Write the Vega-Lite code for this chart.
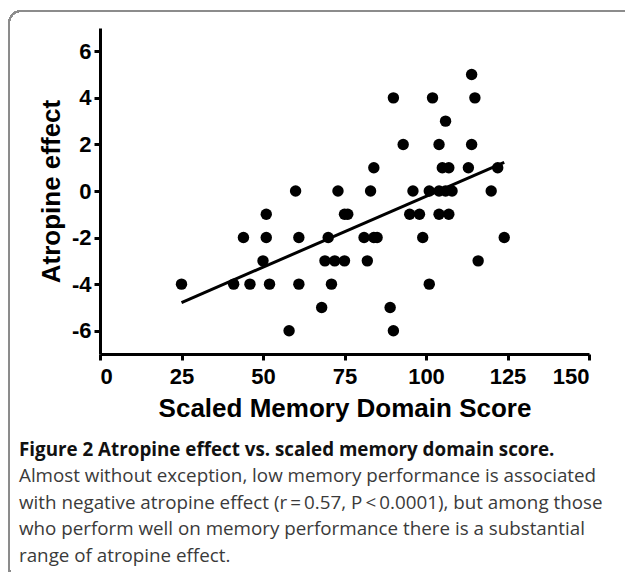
{
  "$schema": "https://vega.github.io/schema/vega-lite/v6.json",
  "autosize": {"type": "none"},
  "width": 489,
  "height": 326,
  "padding": {"left": 100, "top": 28, "right": 36, "bottom": 218},
  "background": "white",
  "data": {
    "values": [
      {"x": 25, "y": -4}, {"x": 41, "y": -4}, {"x": 46, "y": -4}, {"x": 44, "y": -2},
      {"x": 51, "y": -1}, {"x": 51, "y": -2}, {"x": 50, "y": -3}, {"x": 52, "y": -4},
      {"x": 60, "y": 0}, {"x": 61, "y": -2}, {"x": 61, "y": -4}, {"x": 58, "y": -6},
      {"x": 68, "y": -5}, {"x": 70, "y": -2}, {"x": 69, "y": -3}, {"x": 72, "y": -3},
      {"x": 75, "y": -3}, {"x": 71, "y": -4}, {"x": 73, "y": 0}, {"x": 75, "y": -1},
      {"x": 76, "y": -1}, {"x": 81, "y": -2}, {"x": 84, "y": -2}, {"x": 85, "y": -2},
      {"x": 82, "y": -3}, {"x": 83, "y": 0}, {"x": 84, "y": 1}, {"x": 90, "y": 4},
      {"x": 89, "y": -5}, {"x": 90, "y": -6}, {"x": 93, "y": 2}, {"x": 96, "y": 0},
      {"x": 95, "y": -1}, {"x": 98, "y": -1}, {"x": 99, "y": -2}, {"x": 101, "y": 0},
      {"x": 101, "y": -4}, {"x": 102, "y": 4}, {"x": 104, "y": 2}, {"x": 104, "y": 0},
      {"x": 106, "y": 0}, {"x": 108, "y": 0}, {"x": 105, "y": 1}, {"x": 107, "y": 1},
      {"x": 104, "y": -1}, {"x": 107, "y": -1}, {"x": 106, "y": 3}, {"x": 113, "y": 1},
      {"x": 114, "y": 2}, {"x": 115, "y": 4}, {"x": 114, "y": 5}, {"x": 120, "y": 0},
      {"x": 122, "y": 1}, {"x": 124, "y": -2}, {"x": 116, "y": -3}
    ]
  },
  "title": {
    "text": "Figure 2 Atropine effect vs. scaled memory domain score.",
    "subtitle": [
      "Almost without exception, low memory performance is associated",
      "with negative atropine effect (r\u2009=\u20090.57, P\u2009<\u20090.0001), but among those",
      "who perform well on memory performance there is a substantial",
      "range of atropine effect."
    ],
    "orient": "bottom",
    "anchor": "start",
    "frame": "group",
    "dx": -81,
    "offset": -139.5,
    "font": "Open Sans",
    "fontSize": 18.8,
    "fontWeight": "bold",
    "color": "#111111",
    "subtitleFont": "Open Sans",
    "subtitleFontSize": 18.8,
    "subtitleFontWeight": "normal",
    "subtitleColor": "#3a3a3a",
    "subtitleLineHeight": 26.7,
    "subtitlePadding": 7
  },
  "layer": [
    {
      "mark": {"type": "rect", "fill": null, "stroke": "#8c8c8c", "strokeWidth": 1.5, "cornerRadius": 12},
      "encoding": {
        "x": {"datum": -27.9, "type": "quantitative"},
        "x2": {"datum": 220},
        "y": {"datum": 7.73, "type": "quantitative"},
        "y2": {"datum": -16.7}
      }
    },
    {
      "mark": {"type": "circle", "size": 130, "color": "black", "opacity": 1},
      "encoding": {
        "x": {
          "field": "x", "type": "quantitative",
          "scale": {"domain": [0, 150], "nice": false, "zero": false},
          "axis": {
            "title": "Scaled Memory Domain Score",
            "values": [0, 25, 50, 75, 100, 125, 150],
            "grid": false
          }
        },
        "y": {
          "field": "y", "type": "quantitative",
          "scale": {"domain": [-7, 7], "nice": false, "zero": false},
          "axis": {
            "title": "Atropine effect",
            "values": [-6, -4, -2, 0, 2, 4, 6],
            "labelExpr": "datum.value < 0 ? '-' + abs(datum.value) : '' + datum.value",
            "grid": false
          }
        }
      }
    },
    {
      "transform": [{"regression": "y", "on": "x", "extent": [25, 124]}],
      "mark": {"type": "line", "color": "black", "strokeWidth": 3},
      "encoding": {
        "x": {"field": "x", "type": "quantitative"},
        "y": {"field": "y", "type": "quantitative"}
      }
    }
  ],
  "config": {
    "view": {"stroke": null},
    "axis": {
      "domainColor": "black",
      "domainWidth": 3,
      "tickColor": "black",
      "tickWidth": 3,
      "tickSize": 6,
      "labelFont": "Liberation Sans",
      "labelFontWeight": "bold",
      "labelFontSize": 22,
      "labelColor": "black",
      "titleFont": "Liberation Sans",
      "titleFontWeight": "bold",
      "titleColor": "black"
    },
    "axisX": {"labelPadding": 6, "titlePadding": 8, "titleFontSize": 26},
    "axisY": {"labelPadding": 3, "titlePadding": 7, "titleFontSize": 26}
  }
}
